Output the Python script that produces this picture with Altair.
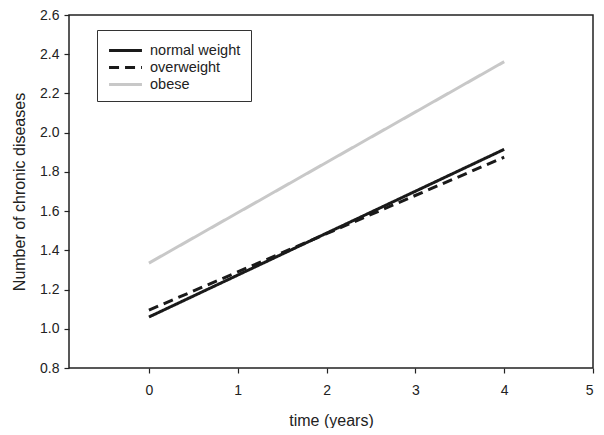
import altair as alt
import pandas as pd

groups = ["normal weight", "overweight", "obese"]
times = [0, 4]
normal_vals = [1.06, 1.915]
over_vals = [1.095, 1.875]
obese_vals = [1.335, 2.362]

rows = []
for g, vals in zip(groups, [normal_vals, over_vals, obese_vals]):
    for t, v in zip(times, vals):
        rows.append({"group": g, "time": t, "value": v})
df = pd.DataFrame(rows)

x_ticks = [0, 1, 2, 3, 4, 5]
y_ticks = [0.8, 1.0, 1.2, 1.4, 1.6, 1.8, 2.0, 2.2, 2.4, 2.6]

font = "Liberation Sans"

legend_opts = dict(title=None, orient="none", legendX=28, legendY=15,
                   strokeColor="#333", padding=10, symbolType="M-1.9,0H1.9",
                   symbolStrokeWidth=3, symbolSize=300, symbolOffset=8,
                   labelFontSize=14.5, labelFont=font, labelColor="#222",
                   rowPadding=0, labelOffset=14, fillColor="white")

chart = alt.Chart(df).mark_line(strokeWidth=3, strokeCap="butt").encode(
    x=alt.X("time:Q", scale=alt.Scale(domain=[-0.9, 5], nice=False, zero=False),
            axis=alt.Axis(values=x_ticks, title="time (years)", grid=False,
                          tickSize=5, labelPadding=10, titlePadding=15,
                          format="d", domain=False)),
    y=alt.Y("value:Q", scale=alt.Scale(domain=[0.8, 2.6], nice=False, zero=False),
            axis=alt.Axis(values=y_ticks, title="Number of chronic diseases", grid=False,
                          tickSize=5, labelPadding=5, titlePadding=12,
                          format=".1f", domain=False)),
    color=alt.Color("group:N", scale=alt.Scale(domain=groups, range=["#1a1a1a", "#1a1a1a", "#c8c8c8"]),
                    legend=alt.Legend(**legend_opts)),
    strokeDash=alt.StrokeDash("group:N", scale=alt.Scale(domain=groups, range=[[1, 0], [10, 6], [1, 0]]),
                              legend=alt.Legend(**legend_opts)),
).properties(
    width=524, height=353,
    autosize=alt.AutoSizeParams(type="none"),
    padding={"left": 61, "top": 7, "right": 3, "bottom": 60},
    background="white",
).configure_view(
    stroke="#222", strokeWidth=1.5
).configure_axis(
    labelFont=font, titleFont=font, labelFontSize=14, titleFontSize=16,
    labelColor="#222", titleColor="#222", tickColor="#222", titleFontWeight="normal",
    tickWidth=1.2
)

chart.save("out.html", embed_options={"renderer": "svg", "actions": False})
